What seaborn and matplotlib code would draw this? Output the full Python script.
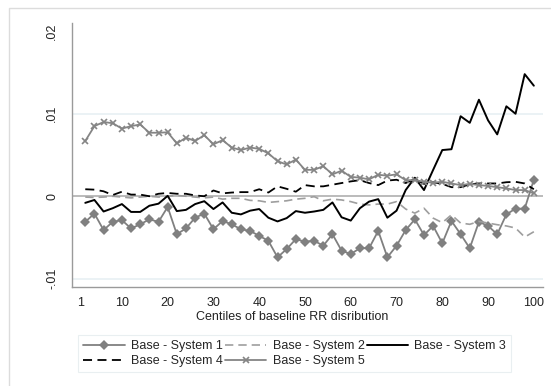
import matplotlib
matplotlib.use("Agg")
import matplotlib.pyplot as plt
from matplotlib.patches import Rectangle
import seaborn as sns

# centiles (every 2nd) and differences, in units of 0.001
centiles = list(range(2, 101, 2))

sys1 = [-3.1, -2.1, -4.1, -3.1, -2.9, -3.9, -3.4, -2.8, -3.1, -1.3,
        -4.6, -3.9, -2.6, -2.1, -4.0, -3.0, -3.4, -4.0, -4.2, -4.8,
        -5.4, -7.4, -6.4, -5.2, -5.5, -5.4, -6.0, -4.6, -6.6, -7.0,
        -6.3, -6.3, -4.2, -7.4, -6.0, -4.1, -2.8, -4.7, -3.6, -5.7,
        -3.0, -4.6, -6.3, -3.1, -3.6, -4.6, -2.2, -1.5, -1.5, 2.0]

sys2 = [-0.1, -0.15, -0.1, 0.0, -0.1, -0.2, -0.1, 0.0, -0.1, 0.0,
        0.1, 0.0, -0.1, -0.2, -0.1, -0.35, -0.25, -0.25, -0.5, -0.55,
        -0.75, -0.65, -0.55, -0.35, -0.25, -0.05, -0.55, -0.35, -0.45, -0.65,
        -0.95, -1.05, -0.95, -0.95, -0.65, -1.55, -2.05, -1.45, -2.65, -3.2,
        -2.25, -3.25, -3.4, -3.05, -3.25, -3.45, -3.6, -3.85, -4.95, -4.3]

sys3 = [-0.8, -0.45, -1.85, -1.45, -0.95, -1.9, -1.9, -1.15, -0.9, 0.05,
        -1.8, -1.65, -0.95, -0.6, -1.55, -0.75, -2.0, -2.2, -1.75, -1.55,
        -2.6, -3.05, -2.65, -1.8, -2.0, -1.85, -1.65, -0.75, -2.55, -2.95,
        -1.45, -0.65, -0.35, -2.6, -1.75, 0.75, 2.25, 0.75, 3.2, 5.6,
        5.7, 9.7, 8.9, 11.7, 9.2, 7.5, 10.9, 10.0, 14.8, 13.4]

sys4 = [0.85, 0.8, 0.6, 0.15, 0.55, 0.2, 0.2, 0.0, 0.3, 0.4,
        0.3, 0.3, 0.1, 0.0, 0.7, 0.35, 0.45, 0.5, 0.5, 0.85,
        0.45, 1.2, 0.9, 0.55, 1.35, 1.2, 1.2, 1.4, 1.6, 1.8,
        1.95, 1.6, 1.35, 1.9, 2.0, 1.6, 2.1, 1.5, 1.7, 1.5,
        1.1, 1.1, 1.45, 1.55, 1.55, 1.55, 1.7, 1.75, 1.55, 0.85]

sys5 = [6.7, 8.5, 9.0, 8.85, 8.2, 8.5, 8.7, 7.7, 7.7, 7.75,
        6.4, 7.1, 6.7, 7.4, 6.3, 6.8, 5.9, 5.6, 5.9, 5.75,
        5.2, 4.25, 3.85, 4.45, 3.2, 3.2, 3.65, 2.65, 3.1, 2.35,
        2.25, 2.05, 2.6, 2.5, 2.65, 1.95, 1.95, 1.75, 1.65, 1.75,
        1.55, 1.35, 1.5, 1.35, 1.25, 1.1, 0.95, 0.75, 0.75, 0.35]

labels = ["Base - System 1", "Base - System 2", "Base - System 3",
          "Base - System 4", "Base - System 5"]
xticks = [1, 10, 20, 30, 40, 50, 60, 70, 80, 90, 100]
yticks = [-10, 0, 10, 20]
ytick_labels = ["-.01", "0", ".01", ".02"]

sns.set_style("white")
plt.rcParams["font.family"] = ["Liberation Sans", "DejaVu Sans"]

fig = plt.figure(figsize=(5.51, 3.86), dpi=100)
ax = fig.add_axes([72 / 551, 1 - 287 / 386, 471 / 551, 264 / 386])

# outer graph region frame
fig.patches.append(Rectangle((9 / 551, -0.1), 1.2, 1.1 - 8 / 386, transform=fig.transFigure,
                             fill=False, edgecolor="#DCDCDC", lw=1))

ax.axhline(10, color="#E8F0F3", lw=1.2, zorder=0)
ax.axhline(-10, color="#E8F0F3", lw=1.2, zorder=0)
ax.axhline(0, color="#A8A8A8", lw=1.1, zorder=1)

sns.lineplot(x=centiles, y=sys1, ax=ax, color="#808080", lw=1.3, marker="D",
             markersize=5.5, markeredgewidth=0, label=labels[0])
sns.lineplot(x=centiles, y=sys2, ax=ax, color="#9E9E9E", lw=1.2,
             linestyle=(0, (5, 3)), label=labels[1])
sns.lineplot(x=centiles, y=sys3, ax=ax, color="black", lw=1.4, label=labels[2])
sns.lineplot(x=centiles, y=sys4, ax=ax, color="black", lw=1.3,
             linestyle=(0, (5, 3)), label=labels[3])
sns.lineplot(x=centiles, y=sys5, ax=ax, color="#858585", lw=1.3, marker="x",
             markersize=5, markeredgewidth=1.2, markeredgecolor="#858585",
             label=labels[4])

ax.set_xlim(-0.9, 102)
ax.set_ylim(-11, 21)
ax.set_xticks(xticks)
ax.set_yticks(yticks)
ax.set_yticklabels(ytick_labels, rotation=90, va="center")
ax.tick_params(axis="both", colors="#8C8C8C", labelcolor="#222222", labelsize=9,
               direction="out", length=4, width=1)
ax.tick_params(axis="y", pad=6)
ax.tick_params(axis="x", pad=3)
for side in ["top", "right"]:
    ax.spines[side].set_visible(False)
for side in ["left", "bottom"]:
    ax.spines[side].set_color("#9A9A9A")
    ax.spines[side].set_linewidth(1)
ax.set_xlabel("")
ax.set_ylabel("")

fig.text(292 / 551, 1 - 317 / 386, "Centiles of baseline RR disribution",
         ha="center", va="center", fontsize=9, color="#222222")

handles, labs = ax.get_legend_handles_labels()
ax.get_legend().remove()
order = [0, 3, 1, 4, 2]
leg = fig.legend([handles[i] for i in order], [labs[i] for i in order],
                 loc="upper left", bbox_to_anchor=(72 / 551, 1 - 329 / 386),
                 ncol=3, fontsize=9, frameon=True, fancybox=False,
                 edgecolor="#E4ECEE", handlelength=3.3, handletextpad=0.5,
                 columnspacing=0.2, labelspacing=0.25, borderpad=0.4)
leg.get_frame().set_linewidth(0.8)

plt.savefig("out.png", dpi=100)
